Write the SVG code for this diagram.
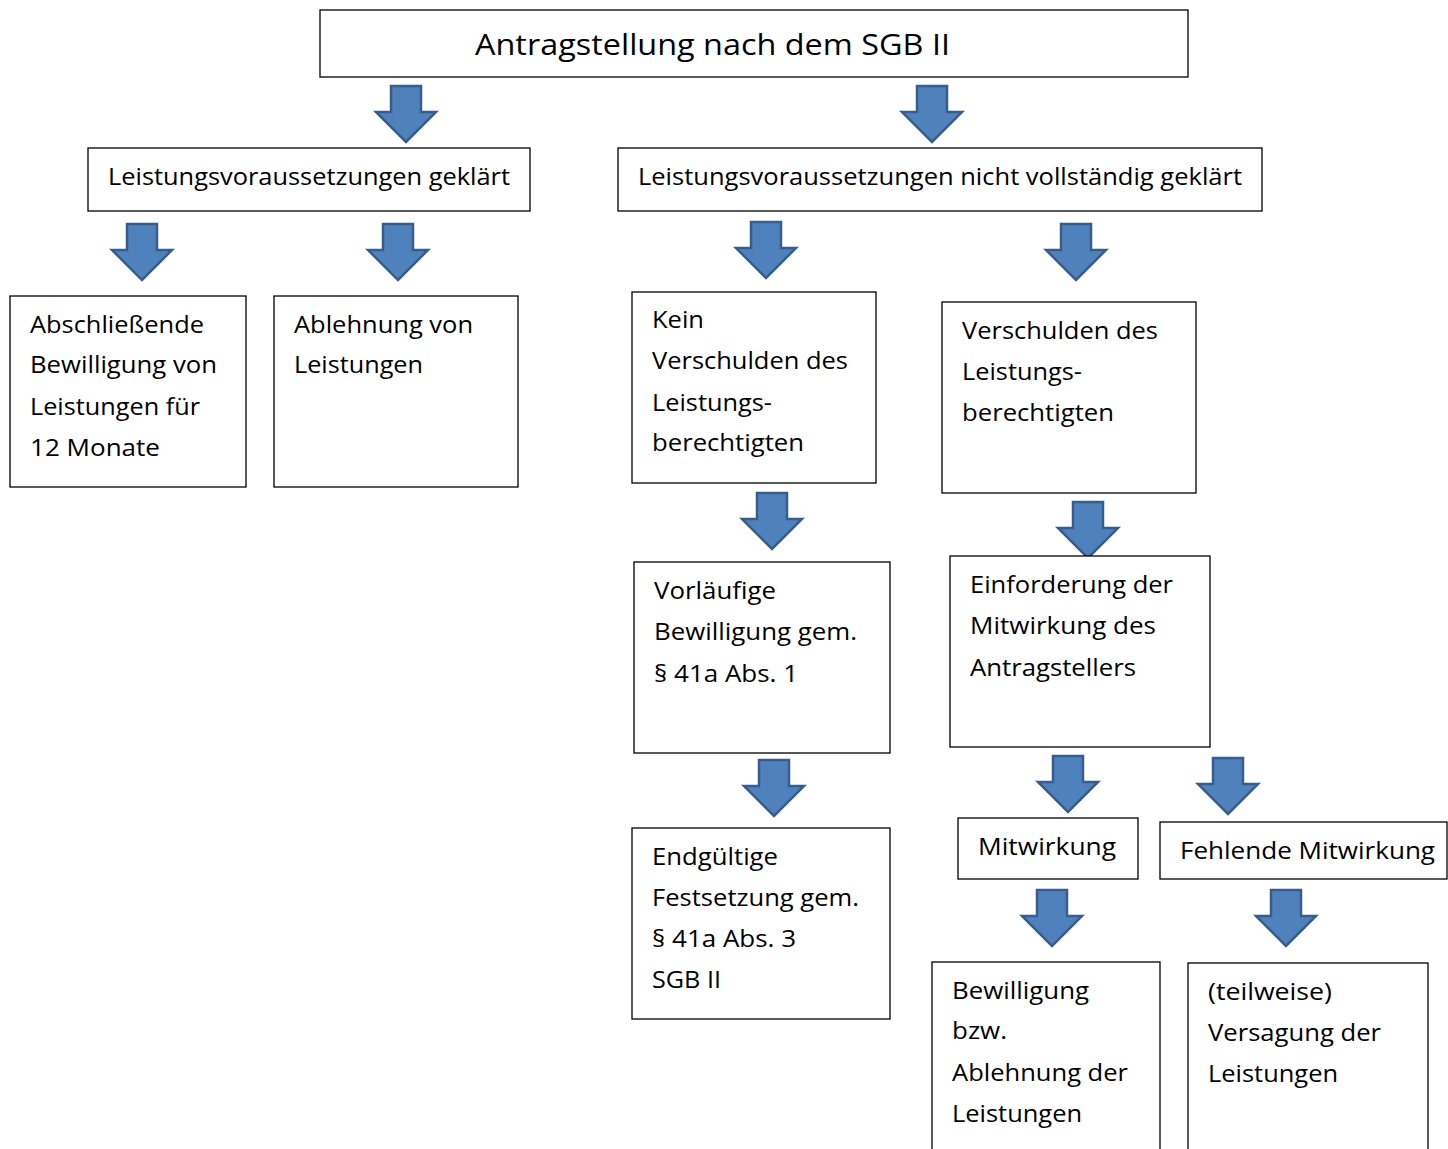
<svg xmlns="http://www.w3.org/2000/svg" xmlns:xlink="http://www.w3.org/1999/xlink" width="1448" height="1149" viewBox="0 0 1448 1149">
<style>
.box{fill:#fff;stroke:#000;stroke-width:1.3}
.t{font-family:"Open Sans","Noto Sans","Liberation Sans",sans-serif;font-size:23px;fill:#000}
.title{font-size:29px}
.arr{fill:#4F81BD;stroke:#385D8A;stroke-width:2.5;stroke-linejoin:miter}
</style>
<defs>
<path id="a" class="arr" d="M-15,0 H15 V26 H30 L0,56 L-30,26 H-15 Z"/>
</defs>
<rect width="1448" height="1149" fill="#fff"/>
<g id="connectors">
<use xlink:href="#a" x="406" y="86"/>
<use xlink:href="#a" x="932" y="86"/>
<use xlink:href="#a" x="142" y="224"/>
<use xlink:href="#a" x="398" y="224"/>
<use xlink:href="#a" x="766" y="222"/>
<use xlink:href="#a" x="1076" y="224"/>
<use xlink:href="#a" x="772" y="493"/>
<use xlink:href="#a" x="1088" y="502"/>
<use xlink:href="#a" x="774" y="760"/>
<use xlink:href="#a" x="1068" y="756"/>
<use xlink:href="#a" x="1228" y="758"/>
<use xlink:href="#a" x="1052" y="890"/>
<use xlink:href="#a" x="1286" y="890"/>
</g>
<g id="top"><rect class="box" x="320" y="10" width="868" height="67"/>
<text class="t title" x="475" y="55" textLength="475" lengthAdjust="spacingAndGlyphs">Antragstellung nach dem SGB II</text></g>
<g id="geklaert"><rect class="box" x="88" y="148" width="442" height="63"/>
<text class="t" x="108" y="185" textLength="402" lengthAdjust="spacingAndGlyphs">Leistungsvoraussetzungen geklärt</text></g>
<g id="nichtgeklaert"><rect class="box" x="618" y="148" width="644" height="63"/>
<text class="t" x="638" y="185" textLength="604" lengthAdjust="spacingAndGlyphs">Leistungsvoraussetzungen nicht vollständig geklärt</text></g>
<g id="abschliessend"><rect class="box" x="10" y="296" width="236" height="191"/>
<text class="t" x="30" y="333" textLength="174" lengthAdjust="spacingAndGlyphs">Abschließende</text>
<text class="t" x="30" y="373" textLength="187" lengthAdjust="spacingAndGlyphs">Bewilligung von</text>
<text class="t" x="30" y="415" textLength="170" lengthAdjust="spacingAndGlyphs">Leistungen für</text>
<text class="t" x="30" y="456" textLength="130" lengthAdjust="spacingAndGlyphs">12 Monate</text></g>
<g id="ablehnung"><rect class="box" x="274" y="296" width="244" height="191"/>
<text class="t" x="294" y="333" textLength="179" lengthAdjust="spacingAndGlyphs">Ablehnung von</text>
<text class="t" x="294" y="373" textLength="129" lengthAdjust="spacingAndGlyphs">Leistungen</text></g>
<g id="keinverschulden"><rect class="box" x="632" y="292" width="244" height="191"/>
<text class="t" x="652" y="328" textLength="52" lengthAdjust="spacingAndGlyphs">Kein</text>
<text class="t" x="652" y="369" textLength="196" lengthAdjust="spacingAndGlyphs">Verschulden des</text>
<text class="t" x="652" y="411" textLength="120" lengthAdjust="spacingAndGlyphs">Leistungs-</text>
<text class="t" x="652" y="451" textLength="152" lengthAdjust="spacingAndGlyphs">berechtigten</text></g>
<g id="verschulden"><rect class="box" x="942" y="302" width="254" height="191"/>
<text class="t" x="962" y="339" textLength="196" lengthAdjust="spacingAndGlyphs">Verschulden des</text>
<text class="t" x="962" y="380" textLength="120" lengthAdjust="spacingAndGlyphs">Leistungs-</text>
<text class="t" x="962" y="421" textLength="152" lengthAdjust="spacingAndGlyphs">berechtigten</text></g>
<g id="vorlaeufig"><rect class="box" x="634" y="562" width="256" height="191"/>
<text class="t" x="654" y="599" textLength="122" lengthAdjust="spacingAndGlyphs">Vorläufige</text>
<text class="t" x="654" y="640" textLength="203" lengthAdjust="spacingAndGlyphs">Bewilligung gem.</text>
<text class="t" x="654" y="682" textLength="144" lengthAdjust="spacingAndGlyphs">§ 41a Abs. 1</text></g>
<g id="einforderung"><rect class="box" x="950" y="556" width="260" height="191"/>
<text class="t" x="970" y="593" textLength="203" lengthAdjust="spacingAndGlyphs">Einforderung der</text>
<text class="t" x="970" y="634" textLength="186" lengthAdjust="spacingAndGlyphs">Mitwirkung des</text>
<text class="t" x="970" y="676" textLength="166" lengthAdjust="spacingAndGlyphs">Antragstellers</text></g>
<g id="endgueltig"><rect class="box" x="632" y="828" width="258" height="191"/>
<text class="t" x="652" y="865" textLength="126" lengthAdjust="spacingAndGlyphs">Endgültige</text>
<text class="t" x="652" y="906" textLength="207" lengthAdjust="spacingAndGlyphs">Festsetzung gem.</text>
<text class="t" x="652" y="947" textLength="144" lengthAdjust="spacingAndGlyphs">§ 41a Abs. 3</text>
<text class="t" x="652" y="988" textLength="69" lengthAdjust="spacingAndGlyphs">SGB II</text></g>
<g id="mitwirkung"><rect class="box" x="958" y="818" width="180" height="61"/>
<text class="t" x="978" y="855" textLength="138" lengthAdjust="spacingAndGlyphs">Mitwirkung</text></g>
<g id="fehlend"><rect class="box" x="1160" y="822" width="287" height="57"/>
<text class="t" x="1180" y="859" textLength="255" lengthAdjust="spacingAndGlyphs">Fehlende Mitwirkung</text></g>
<g id="bewilligung"><rect class="box" x="932" y="962" width="228" height="200"/>
<text class="t" x="952" y="999" textLength="137" lengthAdjust="spacingAndGlyphs">Bewilligung</text>
<text class="t" x="952" y="1039" textLength="55" lengthAdjust="spacingAndGlyphs">bzw.</text>
<text class="t" x="952" y="1081" textLength="176" lengthAdjust="spacingAndGlyphs">Ablehnung der</text>
<text class="t" x="952" y="1122" textLength="130" lengthAdjust="spacingAndGlyphs">Leistungen</text></g>
<g id="versagung"><rect class="box" x="1188" y="963" width="240" height="200"/>
<text class="t" x="1208" y="1000" textLength="124" lengthAdjust="spacingAndGlyphs">(teilweise)</text>
<text class="t" x="1208" y="1041" textLength="173" lengthAdjust="spacingAndGlyphs">Versagung der</text>
<text class="t" x="1208" y="1082" textLength="130" lengthAdjust="spacingAndGlyphs">Leistungen</text></g>
</svg>
